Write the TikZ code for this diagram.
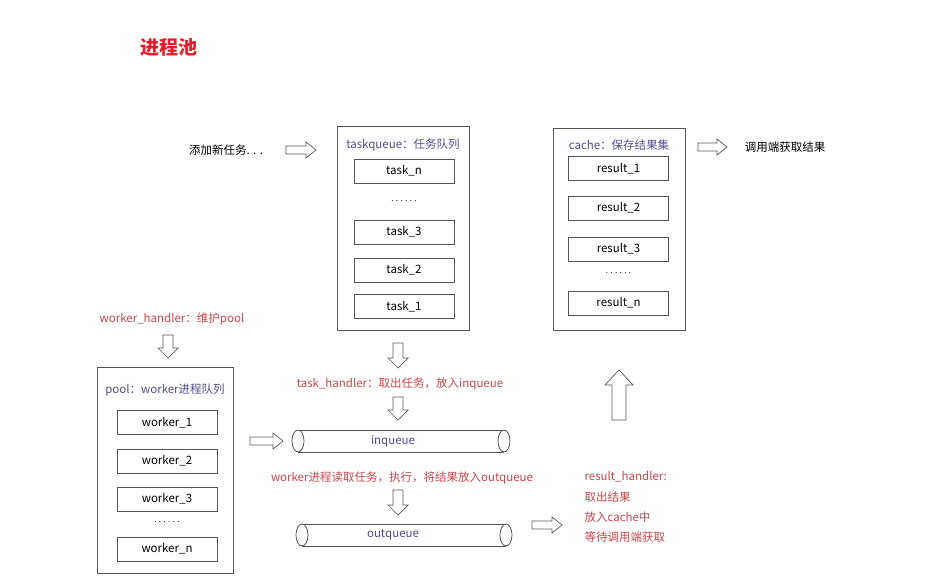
\documentclass[tikz,border=0pt]{standalone}
\usepackage{fontspec}
\setmainfont{Noto Sans CJK SC}
\begin{document}
\definecolor{titlered}{HTML}{E0202A}
\definecolor{notered}{HTML}{C8464E}
\definecolor{queueblue}{HTML}{4E4E8C}
\definecolor{framegray}{HTML}{555555}
\begin{tikzpicture}[x=1pt,y=-1pt,
  outer/.style={draw=framegray, line width=0.8pt, inner sep=0pt},
  item/.style={draw=framegray, line width=0.8pt, minimum width=100pt, minimum height=24pt, inner sep=0pt, font=\fontsize{11.5}{13}\selectfont},
  title/.style={font=\fontsize{11.5}{13}\selectfont, text=queueblue},
  note/.style={font=\fontsize{11.5}{13}\selectfont, text=notered},
  plain/.style={font=\fontsize{11.5}{13}\selectfont},
  dots/.style={font=\fontsize{8}{10}\selectfont},
  hollow/.style={draw=black!65, line width=0.7pt, fill=white, line join=miter},
  tube/.style={draw=framegray, line width=0.8pt}]
\newcommand\hollowarrow[6]{%
  \draw[hollow, shift={#1}, rotate=#2]
    (0,-#4) -- (#3-#6,-#4) -- (#3-#6,-#5) -- (#3,0) -- (#3-#6,#5) -- (#3-#6,#4) -- (0,#4) -- cycle;}
\path[use as bounding box] (0,0) rectangle (928,580);

% heading
\node[font=\fontsize{19}{22}\selectfont\bfseries, text=titlered] (head) at (169,47) {进程池};

% task queue
\node[plain] (add) at (226,150) {添加新任务. . .};
\node[outer, minimum width=132pt, minimum height=204pt] (tq) at (403,228) {};
\node[title] (tqlabel) at (403,145) {taskqueue：任务队列};
\node[item] (taskn) at (404,171) {task\_n};
\node[dots] (tqdots) at (404,201) {. . . . . .};
\node[item] (task3) at (404,232) {task\_3};
\node[item] (task2) at (404,270) {task\_2};
\node[item] (task1) at (404,306.5) {task\_1};

% result cache
\node[outer, minimum width=132pt, minimum height=202pt] (cache) at (619,229) {};
\node[title] (cachelabel) at (619,145) {cache：保存结果集};
\node[item] (res1) at (618.5,168.5) {result\_1};
\node[item] (res2) at (618.5,208) {result\_2};
\node[item] (res3) at (618.5,249) {result\_3};
\node[dots] (cdots) at (618.5,273) {. . . . . .};
\node[item] (resn) at (618.5,303) {result\_n};
\node[plain] (fetch) at (785,147) {调用端获取结果};

% worker pool
\node[note] (whandler) at (172,319) {worker\_handler：维护pool};
\node[outer, minimum width=136pt, minimum height=206pt] (pool) at (165,470) {};
\node[title] (poollabel) at (165,390) {pool：worker进程队列};
\node[item] (w1) at (167,422.5) {worker\_1};
\node[item] (w2) at (167,461) {worker\_2};
\node[item] (w3) at (167,499) {worker\_3};
\node[dots] (pdots) at (167,522) {. . . . . .};
\node[item] (wn) at (167,549) {worker\_n};

% handlers and pipes
\node[note] (thandler) at (400,384) {task\_handler：取出任务，放入inqueue};
\draw[tube] (298,430) -- (504,430) (298,452) -- (504,452);
\draw[tube, fill=white] (298,441) ellipse [x radius=6, y radius=11];
\draw[tube, fill=white] (504,441) ellipse [x radius=6, y radius=11];
\node[title] (inq) at (393,441) {inqueue};
\node[note] (wread) at (402,478) {worker进程读取任务，执行，将结果放入outqueue};
\draw[tube] (302,524) -- (506,524) (302,546) -- (506,546);
\draw[tube, fill=white] (302,535) ellipse [x radius=6, y radius=11];
\draw[tube, fill=white] (506,535) ellipse [x radius=6, y radius=11];
\node[title] (outq) at (393,535) {outqueue};
\node[note, anchor=west] (rh1) at (581,477) {result\_handler:};
\node[note, anchor=west] (rh2) at (581,497) {取出结果};
\node[note, anchor=west] (rh3) at (581,517) {放入cache中};
\node[note, anchor=west] (rh4) at (581,537) {等待调用端获取};

% hollow block arrows
\hollowarrow{(286,150)}{0}{30}{4}{8}{10}
\hollowarrow{(698,147)}{0}{29}{4}{8}{10}
\hollowarrow{(168,335)}{-90}{23}{5}{10}{10}
\hollowarrow{(398,343)}{-90}{25}{5}{10}{10}
\hollowarrow{(398,397)}{-90}{23}{5}{10}{10}
\hollowarrow{(398,490)}{-90}{25}{5}{10}{10}
\hollowarrow{(250,441)}{0}{33}{4}{8}{10}
\hollowarrow{(532,525)}{0}{30}{4}{8}{10}
\hollowarrow{(619,420)}{90}{50}{7}{14}{15}
\end{tikzpicture}
\end{document}
